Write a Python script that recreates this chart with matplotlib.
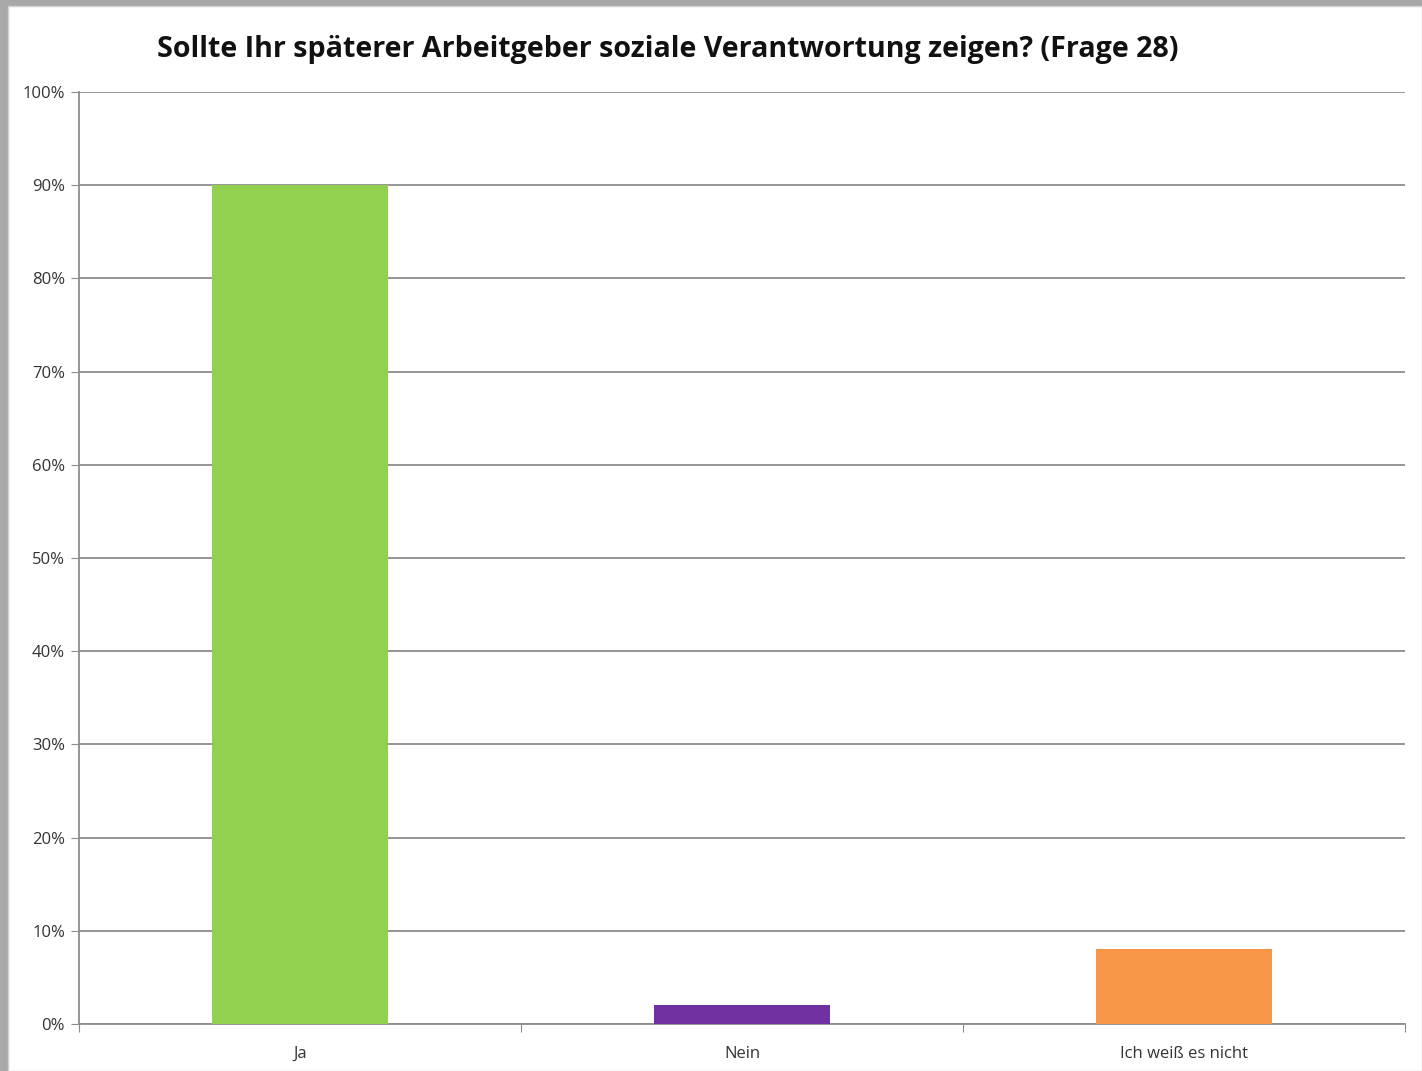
import matplotlib
matplotlib.use("Agg")
import matplotlib.pyplot as plt
from matplotlib.patches import Rectangle
from matplotlib.ticker import MultipleLocator, PercentFormatter

categories = ["Ja", "Nein", "Ich weiß es nicht"]
values = [90, 2, 8]
colors = ["#92D050", "#7030A0", "#F79646"]
title = "Sollte Ihr späterer Arbeitgeber soziale Verantwortung zeigen? (Frage 28)"

plt.rcParams['font.family'] = ['Open Sans', 'DejaVu Sans']

fig = plt.figure(figsize=(14.22, 10.71), dpi=100)
fig.patch.set_facecolor("#a8a8a8")
# white chart area inside the grey frame
fig.patches.append(Rectangle((8 / 1422, 0), 1 - 8 / 1422, 1 - 6 / 1071,
                             transform=fig.transFigure, facecolor="white",
                             edgecolor="#d0d0d0", lw=1, zorder=-5))

ax = fig.add_axes([79 / 1422, 1 - 1024 / 1071, (1405 - 79) / 1422, (1024 - 92) / 1071])
ax.set_facecolor("none")
ax.set_zorder(2)

x = range(len(categories))
ax.bar(x, values, width=0.4, color=colors, zorder=3)

ax.set_xlim(-0.5, len(categories) - 0.5)
ax.set_ylim(0, 100)
ax.yaxis.set_major_locator(MultipleLocator(10))
ax.yaxis.set_major_formatter(PercentFormatter(decimals=0))
ax.grid(axis="y", color="#8c8c8c", lw=1.3, zorder=1)

ax.set_xticks([i - 0.5 for i in range(len(categories) + 1)], minor=False)
ax.set_xticklabels([])
ax.set_xticks(list(x), minor=True)
ax.set_xticklabels(categories, minor=True)
ax.tick_params(axis="x", which="minor", length=0, pad=16, labelsize=12, colors="#333333")
ax.tick_params(axis="x", which="major", length=6, color="#8c8c8c", direction="out")
ax.tick_params(axis="y", length=6, color="#8c8c8c", labelsize=12, labelcolor="#333333", pad=4)

for s in ["top", "right"]:
    ax.spines[s].set_visible(False)
for s in ["left", "bottom"]:
    ax.spines[s].set_color("#8c8c8c")
    ax.spines[s].set_linewidth(1.3)

fig.text(668 / 1422, 1 - 49 / 1071, title, ha="center", va="center",
         fontsize=20.6, fontweight="bold", color="#111111")

fig.savefig("out.png", dpi=100, facecolor=fig.get_facecolor())
